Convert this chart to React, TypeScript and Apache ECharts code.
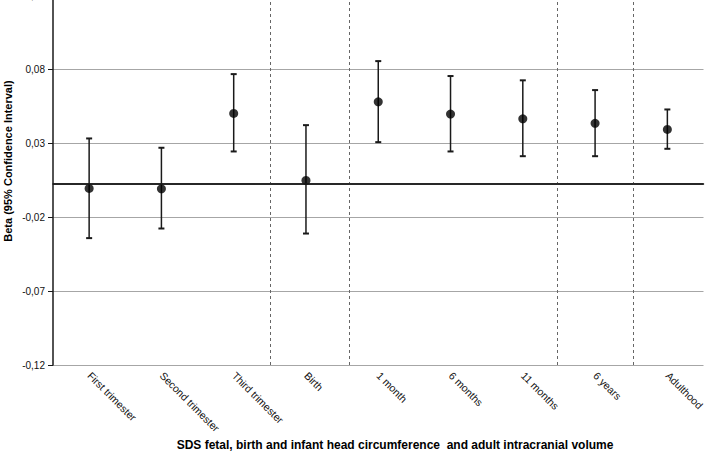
import React, { useEffect, useRef } from "react";
import * as echarts from "echarts";

const categories = [
  "First trimester",
  "Second trimester",
  "Third trimester",
  "Birth",
  "1 month",
  "6 months",
  "11 months",
  "6 years",
  "Adulthood",
];
const betas = [-0.0031, -0.0034, 0.0476, 0.0023, 0.0555, 0.0472, 0.044, 0.0409, 0.0368];
const lowerCI = [-0.0367, -0.0302, 0.0219, -0.0336, 0.0282, 0.0219, 0.0187, 0.0187, 0.0237];
const upperCI = [0.0307, 0.0244, 0.0742, 0.0397, 0.083, 0.0729, 0.07, 0.0634, 0.0503];

const yTickValues = [-0.1225, -0.0725, -0.0225, 0.0275, 0.0775, 0.1275];
const yTickLabels = ["-0,12", "-0,07", "-0,02", "0,03", "0,08", "0,13"];
const yMin = -0.1225;
const yMax = 0.1275;

// separator positions in category-band units (0 = left edge, 9 = right edge)
const separators = [3.0, 4.1, 6.97, 8.03];

const xTitle = "SDS fetal, birth and infant head circumference  and adult intracranial volume";
const yTitle = "Beta (95% Confidence Interval)";

const FONT = "'Liberation Sans', Arial, sans-serif";

export default function App() {
  const ref = useRef<HTMLDivElement>(null);
  useEffect(() => {
    if (!ref.current) return;
    const chart = echarts.init(ref.current, undefined, { renderer: "svg" });
    const errData = categories.map((_, i) => [i, lowerCI[i], upperCI[i]]);
    chart.setOption({
      animation: false,
      backgroundColor: "#ffffff",
      textStyle: { fontFamily: FONT },
      grid: {
        left: 53,
        right: 4.5,
        top: -4.7,
        bottom: 86,
        containLabel: false,
        outerBoundsMode: "none",
      },
      xAxis: [
        {
          type: "category",
          data: categories,
          boundaryGap: true,
          axisLine: { lineStyle: { color: "#1a1a1a", width: 1.5 } },
          axisTick: { show: false },
          axisLabel: {
            rotate: -45,
            interval: 0,
            margin: 9,
            fontSize: 10.5,
            color: "#111",
            fontFamily: FONT,
          },
          splitLine: { show: false },
        },
        {
          type: "value",
          min: 0,
          max: 9,
          show: false,
          splitLine: { show: false },
        },
      ],
      yAxis: {
        type: "value",
        min: yMin,
        max: yMax,
        axisLine: { show: true, lineStyle: { color: "#1a1a1a", width: 1.5 } },
        axisTick: {
          show: true,
          customValues: yTickValues,
          length: 5,
          lineStyle: { color: "#1a1a1a", width: 1 },
        },
        axisLabel: {
          customValues: yTickValues,
          margin: 8,
          fontSize: 10,
          color: "#111",
          fontFamily: FONT,
          formatter: (v: number) => {
            let best = 0;
            for (let i = 0; i < yTickValues.length; i++) {
              if (Math.abs(yTickValues[i] - v) < Math.abs(yTickValues[best] - v)) best = i;
            }
            return yTickLabels[best];
          },
        },
        splitLine: { show: true, lineStyle: { color: "#a6a6a6", width: 1 } },
      },
      series: [
        {
          type: "line",
          xAxisIndex: 1,
          data: [],
          silent: true,
          markLine: {
            silent: true,
            symbol: "none",
            label: { show: false },
            lineStyle: { color: "#666", type: [3, 3], width: 1 },
            data: separators.map((s) => ({ xAxis: s })),
          },
        },
        {
          type: "custom",
          xAxisIndex: 0,
          data: errData,
          encode: { x: 0, y: [1, 2] },
          z: 3,
          renderItem: (params: any, api: any) => {
            const x = api.value(0);
            const lo = api.coord([x, api.value(1)]);
            const hi = api.coord([x, api.value(2)]);
            const w = 3;
            const st = { stroke: "#1a1a1a", lineWidth: 1.5 };
            return {
              type: "group",
              children: [
                { type: "line", shape: { x1: hi[0], y1: hi[1], x2: lo[0], y2: lo[1] }, style: st },
                { type: "line", shape: { x1: hi[0] - w, y1: hi[1], x2: hi[0] + w, y2: hi[1] }, style: { stroke: "#1a1a1a", lineWidth: 2 } },
                { type: "line", shape: { x1: lo[0] - w, y1: lo[1], x2: lo[0] + w, y2: lo[1] }, style: { stroke: "#1a1a1a", lineWidth: 2 } },
              ],
            };
          },
        },
        {
          type: "scatter",
          xAxisIndex: 0,
          data: betas,
          symbol: "circle",
          symbolSize: 9,
          itemStyle: { color: "#000" },
          z: 4,
          markLine: {
            silent: true,
            symbol: "none",
            label: { show: false },
            lineStyle: { color: "#1a1a1a", type: "solid", width: 1.5 },
            data: [{ yAxis: 0 }],
          },
        },
      ],
      graphic: [
        {
          type: "text",
          x: 8,
          y: 161,
          rotation: Math.PI / 2,
          style: {
            text: yTitle,
            font: `bold 11px ${FONT}`,
            fill: "#000",
            align: "center",
            verticalAlign: "middle",
          },
        },
        {
          type: "text",
          x: 395,
          y: 445,
          style: {
            text: xTitle,
            font: `bold 12px ${FONT}`,
            fill: "#000",
            align: "center",
            verticalAlign: "middle",
          },
        },
      ],
    });
    return () => chart.dispose();
  }, []);
  return (
    <div
      ref={ref}
      style={{ position: "fixed", left: 0, top: 0, width: 708, height: 451, background: "#fff" }}
    />
  );
}
